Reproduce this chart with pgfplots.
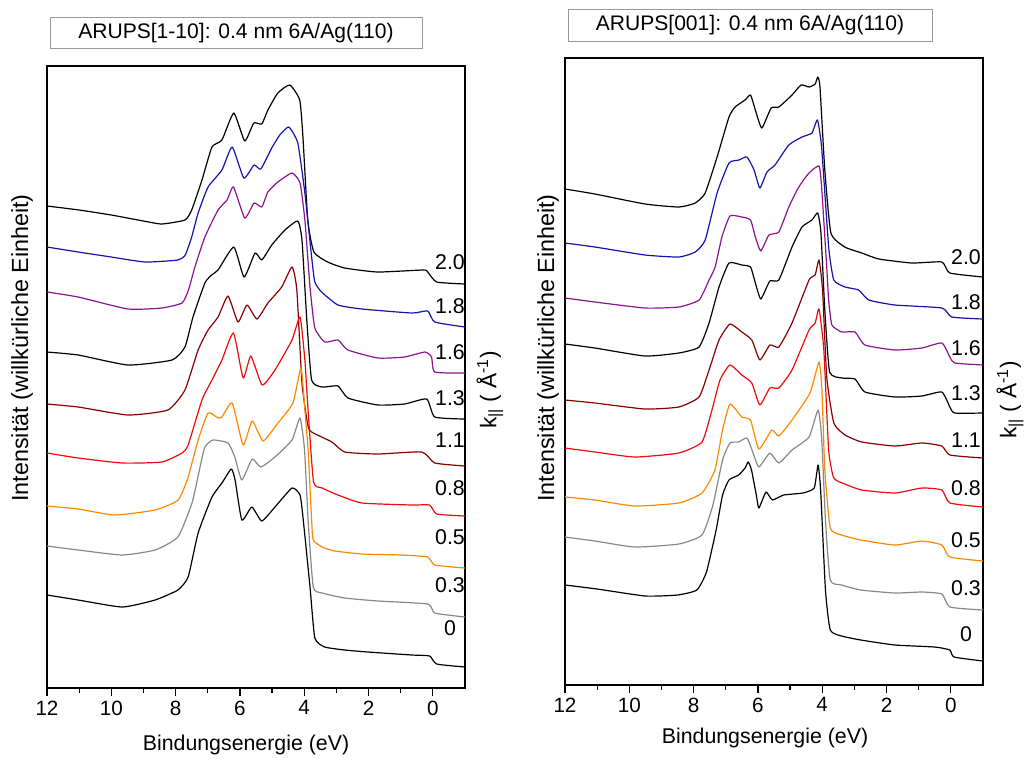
\documentclass[border=0pt]{standalone}
\usepackage{fontspec}
\setmainfont{Liberation Sans}
\usepackage{pgfplots}
\pgfplotsset{compat=1.18}
\definecolor{cblue}{RGB}{20,20,170}
\definecolor{cpurple}{RGB}{140,20,140}
\definecolor{cdred}{RGB}{135,0,0}
\definecolor{cred}{RGB}{240,10,10}
\definecolor{corange}{RGB}{255,135,0}
\definecolor{cgray}{RGB}{135,135,135}
\pgfplotsset{arups/.style={
  scale only axis, width=313.5pt,
  x dir=reverse, y dir=reverse,
  xmin=-1, xmax=12,
  xtick={0,2,...,12}, minor x tick num=1,
  ytick=\empty, xtick pos=bottom, tick align=outside,
  major tick length=6pt, minor tick length=3.5pt,
  axis line style={line width=1.1pt},
  every tick/.style={black, line width=0.9pt},
  ticklabel style={font=\fontsize{15.5}{18}\selectfont},
  /pgf/number format/assume math mode=true,
  every axis plot/.append style={line width=0.9pt, line join=round, smooth, tension=0.3},
}}
\begin{document}
\begin{tikzpicture}
\path[use as bounding box] (0,0) rectangle (770.25pt,-570pt);
% ---------------- left panel
\begin{axis}[arups, at={(35.25pt,-516pt)}, anchor=south west, height=466.5pt, ymin=66, ymax=688]
\addplot[black] coordinates {(12,206)(11,210)(10,215)(9,221)(8.43,224)(7.71,220)(7.5,210)(7.18,180)(6.87,147)(6.56,140)(6.19,113)(5.85,141)(5.57,123)(5.32,124)(5.13,110)(4.82,93)(4.45,85)(4.14,100)(4.04,137)(3.89,220)(3.70,252)(3.27,262)(2.74,268)(1.72,272)(0.3,270)(0.16,272)(-0.12,282)(-1,284)};
\addplot[cblue] coordinates {(12,247)(11.03,252)(10,257)(8.95,262)(7.93,260)(7.7,255)(7.5,237)(7.3,213)(6.99,187)(6.56,170)(6.24,147)(5.88,178)(5.56,165)(5.35,169)(5.01,148)(4.76,135)(4.48,127)(4.2,143)(3.98,193)(3.77,257)(3.67,282)(3.46,292)(2.95,305)(2.2,309)(0.65,313)(0.16,311)(-0.06,322)(-1,327)};
\addplot[cpurple] coordinates {(12,292)(11.03,297)(9.48,309)(8.43,308)(7.8,303)(7.6,290)(7.4,267)(7.09,237)(6.68,210)(6.4,200)(6.2,187)(5.85,218)(5.56,203)(5.32,207)(5.13,192)(4.82,182)(4.38,173)(4.13,183)(3.98,220)(3.82,287)(3.67,328)(3.36,342)(2.95,340)(2.64,350)(1.71,358)(0.88,357)(0.25,352)(0.04,357)(-0.06,372)(-1,373)};
\addplot[black] coordinates {(12,352)(11.03,355)(9.48,365)(8.11,360)(7.71,347)(7.46,317)(7.09,283)(6.88,275)(6.68,270)(6.19,247)(5.87,277)(5.53,253)(5.32,260)(5.01,245)(4.6,230)(4.2,221)(4.07,240)(3.92,320)(3.77,380)(3.45,387)(2.95,386)(2.64,398)(1.71,405)(0.88,404)(0.19,399)(-0.06,417)(-1,419)};
\addplot[cdred] coordinates {(12,404)(11.03,407)(9.48,415)(8.24,410)(7.71,390)(7.3,350)(6.99,330)(6.68,317)(6.37,296)(6.06,322)(5.78,305)(5.47,319)(5.13,303)(4.7,287)(4.38,267)(4.23,290)(4.07,383)(3.89,425)(3.77,432)(3.14,442)(2.74,452)(1.71,454)(0.34,452)(-0.06,463)(-1,466)};
\addplot[cred] coordinates {(12,453)(11.03,458)(9.66,463)(8.43,462)(7.8,453)(7.61,445)(7.18,400)(6.87,380)(6.56,360)(6.2,333)(5.9,378)(5.66,356)(5.31,385)(4.91,370)(4.38,340)(4.13,317)(3.98,360)(3.88,410)(3.71,482)(3.44,488)(2.95,495)(2.2,503)(0.65,505)(0.1,505)(-0.12,514)(-1,516)};
\addplot[corange] coordinates {(12,506)(11.03,509)(9.9,515)(8.64,510)(7.92,500)(7.61,477)(7.3,440)(6.99,413)(6.68,418)(6.56,417)(6.24,403)(5.9,445)(5.62,421)(5.28,441)(4.82,423)(4.35,403)(4.1,368)(3.98,410)(3.88,450)(3.77,520)(3.72,540)(3.44,547)(3.05,551)(2.2,554)(0.97,555)(0.16,557)(-0.06,565)(-1,568)};
\addplot[cgray] coordinates {(12,546)(11.03,550)(9.66,555)(8.64,550)(7.93,537)(7.49,503)(7.24,467)(7.09,447)(6.84,440)(6.37,443)(6.16,457)(5.94,480)(5.62,459)(5.35,467)(4.91,457)(4.38,440)(4.13,418)(3.99,450)(3.88,520)(3.72,587)(3.44,593)(2.74,598)(1.71,601)(0.16,604)(-0.06,613)(-1,617)};
\addplot[black] coordinates {(12,595)(11.03,600)(9.66,607)(8.64,600)(7.93,590)(7.61,577)(7.3,533)(6.87,497)(6.56,483)(6.27,469)(6.15,480)(5.94,520)(5.63,507)(5.32,521)(4.91,507)(4.38,488)(4.13,495)(4.03,520)(3.82,587)(3.67,638)(3.36,647)(2.74,650)(2.02,652)(0.65,655)(0.1,656)(-0.12,664)(-1,667)};
\end{axis}
% ---------------- right panel
\begin{axis}[arups, at={(423.75pt,-513.75pt)}, anchor=south west, height=470.25pt, ymin=58, ymax=685]
\addplot[black] coordinates {(12,189)(11.07,194)(9.51,204)(8.46,207)(7.95,203)(7.64,193)(7.27,157)(6.9,117)(6.71,107)(6.4,100)(6.23,95)(6.08,110)(5.88,128)(5.59,108)(5.35,107)(4.94,95)(4.66,85)(4.41,87)(4.22,84)(4.14,77)(4.07,87)(3.92,170)(3.73,233)(3.3,247)(2.77,253)(2.24,259)(1.21,263)(0.28,262)(0.03,273)(-1,277)};
\addplot[cblue] coordinates {(12,243)(11.07,247)(9.51,255)(8.46,257)(7.95,252)(7.64,240)(7.27,193)(6.9,163)(6.59,160)(6.34,157)(6.12,170)(5.94,188)(5.72,172)(5.47,165)(5.04,145)(4.63,137)(4.32,133)(4.15,120)(4.02,147)(3.8,247)(3.64,280)(3.29,287)(2.87,290)(2.55,300)(1.74,305)(0.28,308)(-0.03,317)(-1,319)};
\addplot[cpurple] coordinates {(12,298)(11.07,302)(9.51,308)(8.46,307)(7.83,300)(7.52,280)(7.33,267)(7.12,237)(6.87,216)(6.5,217)(6.23,220)(6.08,237)(5.91,251)(5.66,235)(5.35,232)(5.04,207)(4.73,187)(4.41,173)(4.1,166)(4.02,187)(3.86,267)(3.8,300)(3.7,325)(3.39,332)(2.98,332)(2.67,345)(1.74,350)(0.9,348)(0.28,343)(0.03,357)(-0.12,363)(-1,365)};
\addplot[black] coordinates {(12,344)(11.07,348)(9.51,356)(8.46,353)(7.83,347)(7.52,323)(7.21,287)(6.9,263)(6.5,265)(6.23,267)(6.08,283)(5.91,299)(5.63,281)(5.35,280)(4.94,247)(4.63,227)(4.32,220)(4.14,213)(4.04,233)(3.92,310)(3.77,372)(3.39,378)(2.98,379)(2.67,392)(1.74,397)(0.9,396)(0.28,392)(0.03,407)(-0.12,413)(-1,413)};
\addplot[cdred] coordinates {(12,400)(11.07,403)(9.51,409)(8.46,407)(7.83,397)(7.52,370)(7.21,340)(6.87,324)(6.5,332)(6.19,340)(5.94,360)(5.63,345)(5.35,347)(4.94,323)(4.41,280)(4.22,275)(4.1,260)(3.99,290)(3.86,377)(3.64,423)(3.29,435)(2.77,442)(1.74,446)(0.9,443)(0.28,446)(0.03,455)(-1,458)};
\addplot[cred] coordinates {(12,448)(11.07,452)(9.83,457)(8.46,453)(7.74,442)(7.43,410)(7.18,380)(6.87,365)(6.5,375)(6.19,383)(5.94,405)(5.63,388)(5.35,388)(4.94,370)(4.41,330)(4.22,323)(4.1,309)(3.95,350)(3.8,450)(3.64,478)(3.3,484)(2.77,490)(1.74,493)(0.9,488)(0.28,490)(0.03,503)(-1,507)};
\addplot[corange] coordinates {(12,497)(11.07,500)(9.83,506)(8.46,503)(7.74,493)(7.34,470)(7.1,430)(6.87,404)(6.5,417)(6.23,420)(5.97,449)(5.57,430)(5.35,436)(4.94,420)(4.38,393)(4.1,362)(4.01,390)(3.92,470)(3.75,528)(3.4,535)(2.8,540)(1.74,545)(0.9,541)(0.28,545)(0.03,557)(-1,561)};
\addplot[cgray] coordinates {(12,537)(11.07,541)(9.83,547)(8.46,544)(7.74,535)(7.4,505)(7.1,460)(6.87,443)(6.6,442)(6.34,438)(6.15,453)(5.97,467)(5.63,453)(5.35,463)(4.94,450)(4.41,437)(4.13,410)(4.02,437)(3.9,520)(3.75,580)(3.4,585)(2.8,590)(1.74,593)(0.9,592)(0.28,594)(0.03,607)(-1,610)};
\addplot[black] coordinates {(12,585)(11,589)(9.5,596)(8.5,595)(7.9,590)(7.6,572)(7.3,530)(7.1,495)(6.9,480)(6.6,475)(6.4,468)(6.3,462)(6.2,470)(6.05,495)(5.97,508)(5.75,492)(5.55,500)(5.2,495)(4.6,493)(4.25,488)(4.13,465)(4.05,490)(3.9,590)(3.75,630)(3.4,636)(2.8,640)(1.74,645)(0.5,647)(0.03,650)(-0.1,657)(-1,661)};
\end{axis}
% ---------------- text
\begin{scope}[x=0.75pt,y=-0.75pt]
\draw[draw=gray!80, line width=0.6pt] (50,17) rectangle (422,48);
\node[font=\fontsize{15.8}{19}\selectfont] at (236,33) {ARUPS[1-10]: 0.4 nm 6A/Ag(110)};
\draw[draw=gray!80, line width=0.6pt] (568,9) rectangle (932,41);
\node[font=\fontsize{15.8}{19}\selectfont] at (750,25) {ARUPS[001]: 0.4 nm 6A/Ag(110)};
\begin{scope}[every node/.style={font=\fontsize{16}{19}\selectfont}]
\foreach \y/\t in {262/2.0,306/1.8,352/1.6,398/1.3,440/1.1,488/0.8,537/0.5,585/0.3,628/0}
  \node at (450,\y) {\t};
\foreach \y/\t in {257/2.0,302/1.8,348/1.6,393/1.3,440/1.1,488/0.8,540/0.5,588/0.3,634/0}
  \node at (966,\y) {\t};
\node at (246,745) {Bindungsenergie (eV)};
\node at (765,738) {Bindungsenergie (eV)};
\node[rotate=90,font=\fontsize{17.5}{20}\selectfont] at (22,348) {Intensität (willkürliche Einheit)};
\node[rotate=90,font=\fontsize{17.5}{20}\selectfont] at (548,348) {Intensität (willkürliche Einheit)};
\node[rotate=90,font=\fontsize{17}{20}\selectfont] at (490,390) {k\textsubscript{||} ( Å\textsuperscript{-1})};
\node[rotate=90,font=\fontsize{17}{20}\selectfont] at (1010,400) {k\textsubscript{||} ( Å\textsuperscript{-1})};
\end{scope}
\end{scope}
\end{tikzpicture}
\end{document}
